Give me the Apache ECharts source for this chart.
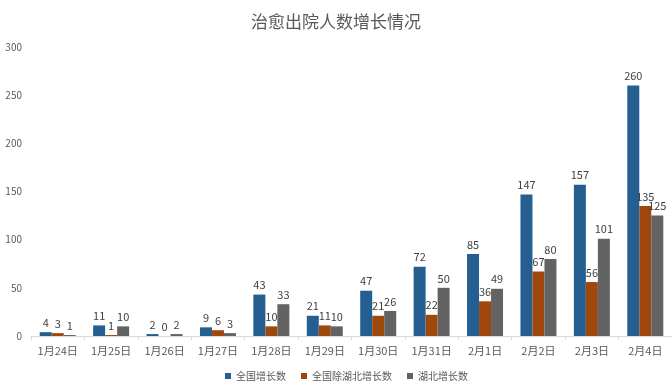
<!DOCTYPE html>
<html><head><meta charset="utf-8">
<script src="https://cdn.jsdelivr.net/npm/echarts@6/dist/echarts.min.js"></script>
<style>html,body{margin:0;padding:0;background:#fff}#c{width:672px;height:389px}</style>
</head><body><div id="c"></div>
<script>
const categories = ['1月24日','1月25日','1月26日','1月27日','1月28日','1月29日','1月30日','1月31日','2月1日','2月2日','2月3日','2月4日'];
const national = [4,11,2,9,43,21,47,72,85,147,157,260];
const exHubei = [3,1,0,6,10,11,21,22,36,67,56,135];
const hubei = [1,10,2,3,33,10,26,50,49,80,101,125];
const yTicks = {min:0, max:300, interval:50};

const font = '"Noto Sans CJK SC", "Noto Sans", sans-serif';
const lbl = {show:true, position:'top', color:'#404040', fontSize:11, fontFamily:font, distance:4};
const chart = echarts.init(document.getElementById('c'), null, {renderer:'canvas'});
chart.setOption({
  animation:false,
  title:{text:'治愈出院人数增长情况', left:'center', top:8, textStyle:{color:'#595959', fontSize:17, fontWeight:'normal', fontFamily:font}},
  legend:{top:366, left:220, itemWidth:6, itemHeight:6, itemGap:15, icon:'rect', textStyle:{color:'#595959', fontSize:10, fontFamily:font},
    data:['全国增长数','全国除湖北增长数','湖北增长数']},
  grid:{left:31, right:0, top:47, bottom:53, containLabel:false},
  xAxis:{type:'category', data:categories, axisLine:{lineStyle:{color:'#d9d9d9'}}, axisTick:{show:true, lineStyle:{color:'#d9d9d9'}, length:4},
    axisLabel:{color:'#595959', fontSize:11, fontFamily:font, margin:9}},
  yAxis:{type:'value', min:yTicks.min, max:yTicks.max, interval:yTicks.interval, splitLine:{show:false}, axisLine:{show:false}, axisTick:{show:false},
    axisLabel:{color:'#595959', fontSize:10, fontFamily:font, margin:9, align:'right'}},
  series:[
    {name:'全国增长数', type:'bar', data:national, barWidth:12, barGap:'0%', itemStyle:{color:'#255e91'}, label:lbl},
    {name:'全国除湖北增长数', type:'bar', data:exHubei, barWidth:12, barGap:'0%', itemStyle:{color:'#9e480e'}, label:lbl},
    {name:'湖北增长数', type:'bar', data:hubei, barWidth:12, barGap:'0%', itemStyle:{color:'#636363'}, label:lbl}
  ]
});
</script></body></html>
